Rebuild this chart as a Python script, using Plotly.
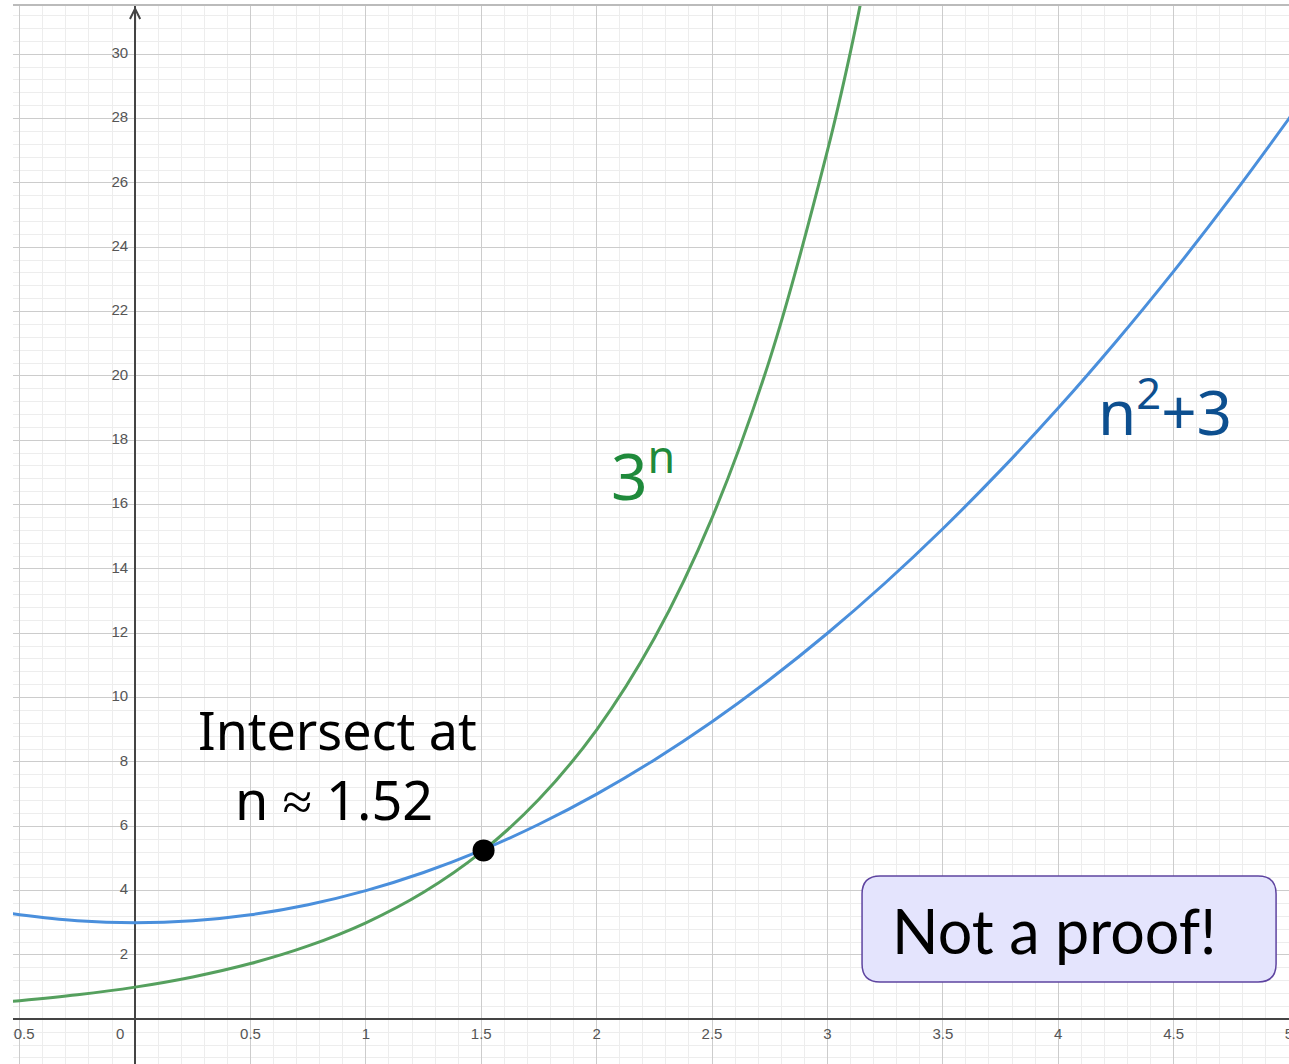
import plotly.graph_objects as go

# ---- data ----
n_green = [-0.55, -0.5, -0.25, 0, 0.25, 0.5, 0.75, 1, 1.25, 1.5, 1.75, 2, 2.25, 2.5, 2.75, 3, 3.1, 3.2]
pow3 = [0.547, 0.577, 0.760, 1.0, 1.316, 1.732, 2.280, 3.0, 3.948, 5.196, 6.839, 9.0, 11.845, 15.588, 20.515, 27.0, 30.08, 33.63]

n_blue = [-0.55, -0.5, -0.25, 0, 0.25, 0.5, 0.75, 1, 1.25, 1.5, 1.75, 2, 2.25, 2.5, 2.75, 3, 3.25, 3.5,
          3.75, 4, 4.25, 4.5, 4.75, 5, 5.05]
sq_plus3 = [3.3025, 3.25, 3.0625, 3.0, 3.0625, 3.25, 3.5625, 4.0, 4.5625, 5.25, 6.0625, 7.0, 8.0625, 9.25,
            10.5625, 12.0, 13.5625, 15.25, 17.0625, 19.0, 21.0625, 23.25, 25.5625, 28.0, 28.5025]

dot_x = [1.51]
dot_y = [5.25]

x_tick_vals = [-0.5, 0.5, 1, 1.5, 2, 2.5, 3, 3.5, 4, 4.5, 5]
x_tick_text = ["−0.5", "0.5", "1", "1.5", "2", "2.5", "3", "3.5", "4", "4.5", "5"]
y_tick_vals = [2, 4, 6, 8, 10, 12, 14, 16, 18, 20, 22, 24, 26, 28, 30]
y_tick_text = [str(v) for v in y_tick_vals]

X_RANGE = [-0.529, 5.0]
Y_RANGE = [-1.39, 31.53]

# pixel -> data unit conversions (plot area 1276 x 1059 px)
PX_X = (X_RANGE[1] - X_RANGE[0]) / 1276.0
PX_Y = (Y_RANGE[1] - Y_RANGE[0]) / 1059.0

GREEN = "#55a05e"
BLUE = "#4a8fdc"
LABEL_GREY = "#555555"
LABEL_FONT = dict(size=15, color=LABEL_GREY, family="Arial")

fig = go.Figure()

fig.add_trace(go.Scatter(x=n_green, y=pow3, mode="lines", line=dict(color=GREEN, width=3, shape="spline"),
                         hoverinfo="skip", showlegend=False))
fig.add_trace(go.Scatter(x=n_blue, y=sq_plus3, mode="lines", line=dict(color=BLUE, width=3, shape="spline"),
                         hoverinfo="skip", showlegend=False))
fig.add_trace(go.Scatter(x=dot_x, y=dot_y, mode="markers", marker=dict(color="black", size=22),
                         hoverinfo="skip", showlegend=False))

# tick labels next to the axes (Desmos style)
fig.add_trace(go.Scatter(x=x_tick_vals, y=[-16 * PX_Y] * len(x_tick_vals), mode="text", text=x_tick_text,
                         textposition="middle center", textfont=LABEL_FONT,
                         hoverinfo="skip", showlegend=False, cliponaxis=True))
fig.add_trace(go.Scatter(x=[-7 * PX_X] * len(y_tick_vals), y=y_tick_vals, mode="text", text=y_tick_text,
                         textposition="middle left", textfont=LABEL_FONT,
                         hoverinfo="skip", showlegend=False, cliponaxis=True))
fig.add_trace(go.Scatter(x=[-15 * PX_X], y=[-16 * PX_Y], mode="text", text=["0"], textposition="middle center",
                         textfont=LABEL_FONT, hoverinfo="skip", showlegend=False))

# rounded box "Not a proof!"
bx0, bx1, by0, by1 = 3.150, 4.944, 1.159, 4.455
rx, ry = 18 * PX_X, 18 * PX_Y
path = (f"M{bx0+rx},{by1} L{bx1-rx},{by1} Q{bx1},{by1} {bx1},{by1-ry} "
        f"L{bx1},{by0+ry} Q{bx1},{by0} {bx1-rx},{by0} L{bx0+rx},{by0} "
        f"Q{bx0},{by0} {bx0},{by0+ry} L{bx0},{by1-ry} Q{bx0},{by1} {bx0+rx},{by1} Z")
fig.add_shape(type="path", path=path, xref="x", yref="y", fillcolor="#e4e4fd",
              line=dict(color="#5e44a0", width=1.5), layer="above")

fig.add_shape(type="line", xref="paper", yref="paper", x0=0, x1=1, y0=1, y1=1,
              line=dict(color="#bbbbbb", width=2))

fig.add_annotation(x=3.271, y=2.745, xref="x", yref="y", text="Not a proof!", showarrow=False,
                   xanchor="left", yanchor="middle", font=dict(family="Lato", size=61, color="#000000"))

fig.add_annotation(x=0.875, y=9.0, xref="x", yref="y", text="Intersect at", showarrow=False,
                   font=dict(family="Noto Sans", size=52, color="#000000"))
fig.add_annotation(x=0.86, y=6.85, xref="x", yref="y", text="n ≈ 1.52", showarrow=False,
                   font=dict(family="Noto Sans", size=54, color="#000000"))
fig.add_annotation(x=2.20, y=17.0, xref="x", yref="y", text="3<sup>n</sup>", showarrow=False,
                   font=dict(family="Noto Sans", size=64, color="#1f8a3b"))
fig.add_annotation(x=4.463, y=19.0, xref="x", yref="y", text="n<sup>2</sup>+3", showarrow=False,
                   font=dict(family="Noto Sans", size=62, color="#0d4f8f"))

# arrow at top of y axis
fig.add_annotation(x=0, y=Y_RANGE[1] - 0.05, xref="x", yref="y", ax=0, ay=25, axref="pixel", ayref="pixel",
                   text="", showarrow=True, arrowhead=5, arrowsize=1, arrowwidth=2, arrowcolor="#444444")

fig.update_xaxes(range=X_RANGE, dtick=0.5, tick0=0, showgrid=True, gridcolor="#cccccc", gridwidth=1,
                 minor=dict(dtick=0.1, tick0=0, showgrid=True, gridcolor="#ededed", gridwidth=1),
                 zeroline=True, zerolinecolor="#444444", zerolinewidth=2,
                 showticklabels=False, ticks="", showline=False, fixedrange=True)
fig.update_yaxes(range=Y_RANGE, dtick=2, tick0=0, showgrid=True, gridcolor="#cccccc", gridwidth=1,
                 minor=dict(dtick=0.4, tick0=0, showgrid=True, gridcolor="#ededed", gridwidth=1),
                 zeroline=True, zerolinecolor="#444444", zerolinewidth=2,
                 showticklabels=False, ticks="", showline=False, fixedrange=True)

fig.update_layout(width=1289, height=1064, margin=dict(l=13, r=0, t=5, b=0),
                  plot_bgcolor="white", paper_bgcolor="white", showlegend=False)

fig.write_html("out.html", config={"displayModeBar": False},
               post_script="document.body.style.margin='0';document.body.style.overflow='hidden';")
